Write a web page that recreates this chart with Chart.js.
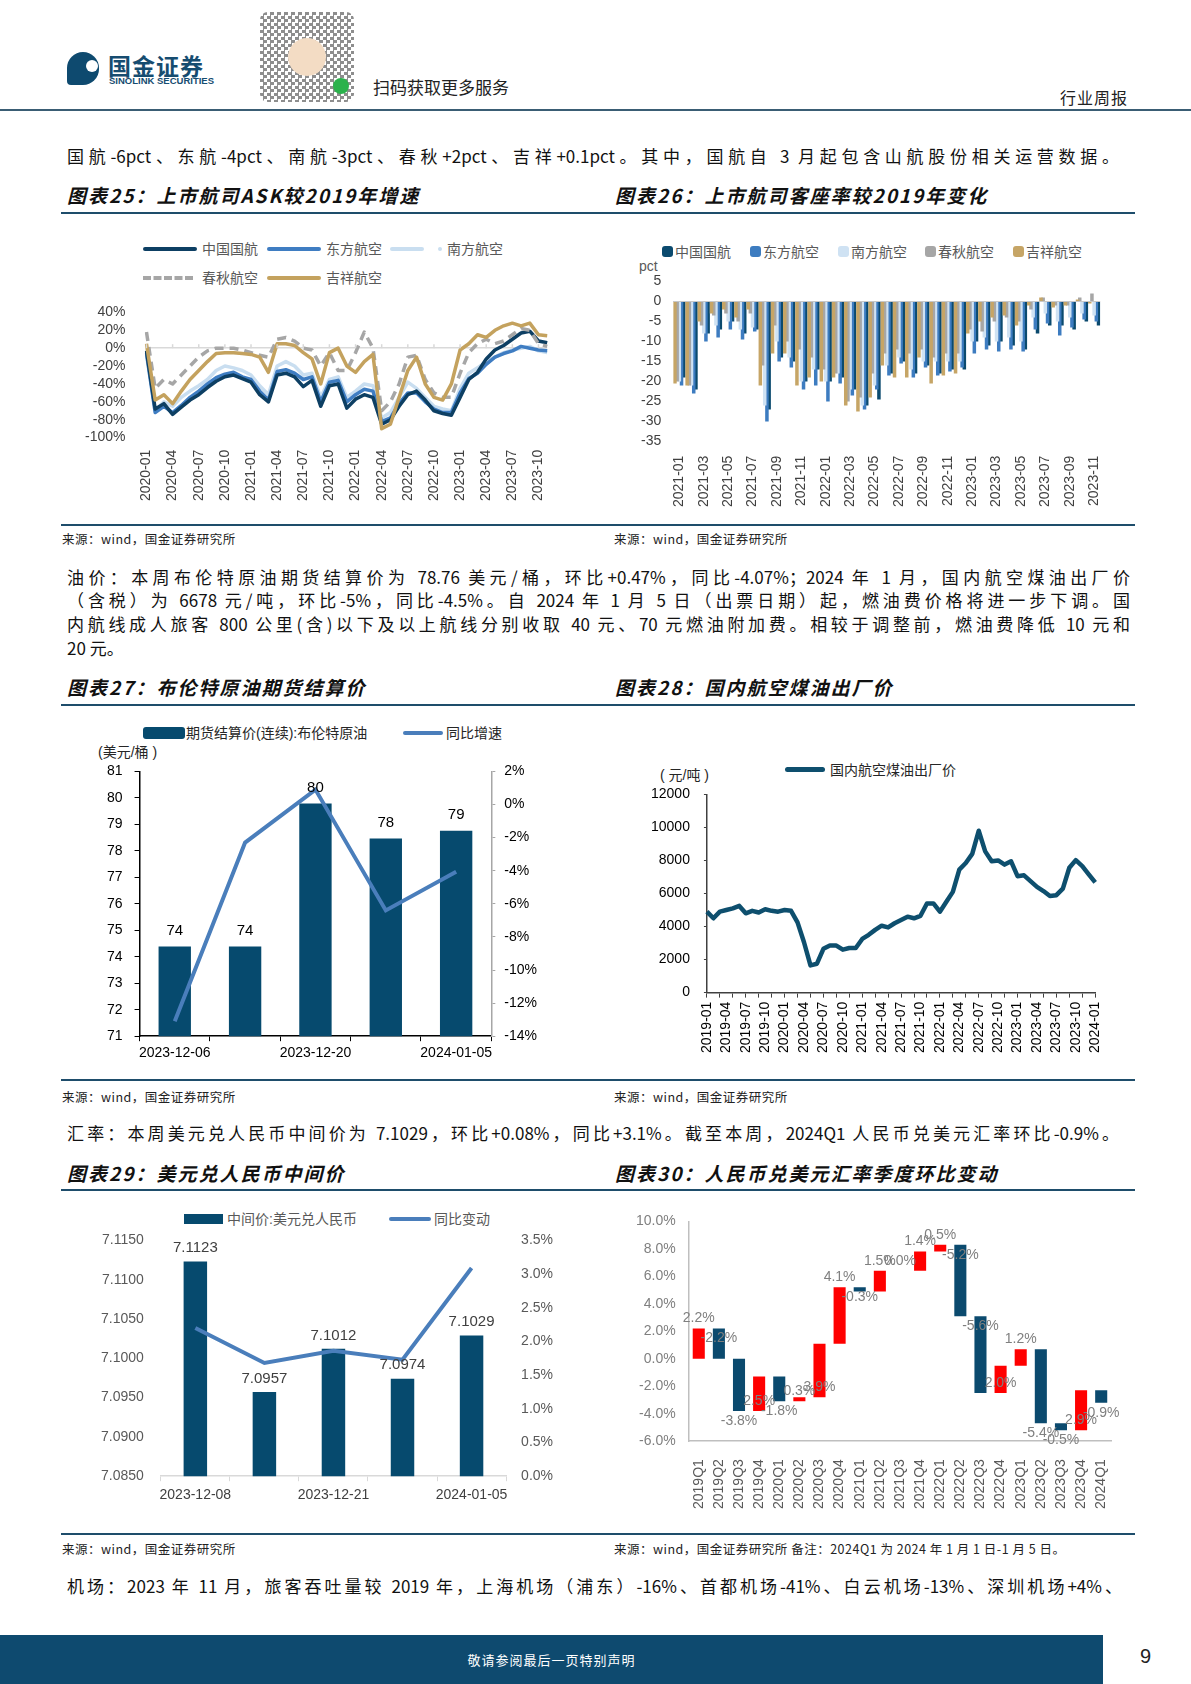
<!DOCTYPE html>
<html>
<head>
<meta charset="utf-8">
<script src="https://cdn.jsdelivr.net/npm/chart.js@4.4.0/dist/chart.umd.min.js"></script>
<style>
body{margin:0;width:1191px;height:1684px;position:relative;background:#fff;overflow:hidden;font-family:"Noto Sans CJK SC","Liberation Sans",sans-serif;color:#111}
.a{position:absolute}
.ln{position:absolute;left:67px;font-size:17px;line-height:22px;text-align:justify;text-align-last:justify;white-space:nowrap}
.ttl{position:absolute;font-size:19px;font-weight:bold;font-style:italic;letter-spacing:2px;line-height:24px}
.src{position:absolute;font-size:12.5px;line-height:16px;color:#222;letter-spacing:0.5px}
.rule{position:absolute;left:61px;width:1074px;height:2px;background:#1e4d6b}
.lg{position:absolute;font-family:"Liberation Sans","Noto Sans CJK SC",sans-serif;font-size:14px;line-height:16px;color:#595959;white-space:nowrap}
canvas{position:absolute}
</style>
</head>
<body>

<!-- header -->
<div class="a" style="left:67px;top:52px;width:32px;height:33px;background:#0e4a6f;border-radius:16px 16px 16px 4px"></div>
<div class="a" style="left:86px;top:60px;width:12px;height:12px;background:#fff;border-radius:6px"></div>
<div class="a" style="left:108px;top:48px;font-size:23px;font-weight:bold;color:#164c70;letter-spacing:1px">国金证券</div>
<div class="a" style="left:109px;top:75px;font-family:'Liberation Sans';font-size:9.5px;font-weight:bold;color:#164c70">SINOLINK SECURITIES</div>
<div class="a" style="left:260px;top:12px;width:94px;height:90px;border-radius:8px;background:repeating-conic-gradient(#333 0 25%,#fff 0 50%) 0 0/7px 7px;opacity:0.55"></div>
<div class="a" style="left:288px;top:38px;width:38px;height:38px;border-radius:19px;background:#f3dcc4"></div>
<div class="a" style="left:333px;top:78px;width:16px;height:16px;border-radius:8px;background:#2bb24c"></div>
<div class="a" style="left:373px;top:74px;font-size:17px;color:#222">扫码获取更多服务</div>
<div class="a" style="left:1060px;top:85px;font-size:16px;color:#222;letter-spacing:1px">行业周报</div>
<div class="a" style="left:0;top:109px;width:1191px;height:2px;background:#3a5d74"></div>

<div class="ln" style="top:145px;width:1052px">国航-6pct、东航-4pct、南航-3pct、春秋+2pct、吉祥+0.1pct。其中，国航自 3 月起包含山航股份相关运营数据。</div>

<!-- block 1 -->
<div class="ttl" style="left:67px;top:183px">图表25：上市航司ASK较2019年增速</div>
<div class="ttl" style="left:615px;top:183px">图表26：上市航司客座率较2019年变化</div>
<div class="rule" style="top:212px"></div>

<div class="lg" style="left:143px;top:241px">
  <span class="a" style="left:0;top:6px;width:54px;height:4px;background:#0d3f63;border-radius:2px"></span>
  <span class="a" style="left:59px;top:0">中国国航</span>
  <span class="a" style="left:124px;top:6px;width:54px;height:4px;background:#3f7dc2;border-radius:2px"></span>
  <span class="a" style="left:183px;top:0">东方航空</span>
  <span class="a" style="left:247px;top:6px;width:34px;height:4px;background:#c9def0;border-radius:2px"></span>
  <span class="a" style="left:295px;top:6px;width:4px;height:4px;background:#c9def0;border-radius:2px"></span>
  <span class="a" style="left:304px;top:0">南方航空</span>
  <span class="a" style="left:0;top:35px;width:50px;height:0;border-top:4px dashed #a6a6a6"></span>
  <span class="a" style="left:59px;top:29px">春秋航空</span>
  <span class="a" style="left:124px;top:35px;width:54px;height:4px;background:#c4a25e;border-radius:2px"></span>
  <span class="a" style="left:183px;top:29px">吉祥航空</span>
</div>

<div class="lg" style="left:662px;top:244px">
  <span class="a" style="left:0;top:2px;width:11px;height:11px;background:#0b4a6e;border-radius:3px"></span>
  <span class="a" style="left:13px;top:0">中国国航</span>
  <span class="a" style="left:88px;top:2px;width:11px;height:11px;background:#3d7cc0;border-radius:3px"></span>
  <span class="a" style="left:101px;top:0">东方航空</span>
  <span class="a" style="left:176px;top:2px;width:11px;height:11px;background:#cfe2f3;border-radius:3px"></span>
  <span class="a" style="left:189px;top:0">南方航空</span>
  <span class="a" style="left:263px;top:2px;width:11px;height:11px;background:#a6a6a6;border-radius:3px"></span>
  <span class="a" style="left:276px;top:0">春秋航空</span>
  <span class="a" style="left:351px;top:2px;width:11px;height:11px;background:#c6a566;border-radius:3px"></span>
  <span class="a" style="left:364px;top:0">吉祥航空</span>
</div>
<div class="lg" style="left:639px;top:258px">pct</div>

<canvas id="c25" width="504" height="222" style="left:64px;top:283px"></canvas>
<canvas id="c26" width="488" height="252" style="left:629px;top:261px"></canvas>

<div class="rule" style="top:524px"></div>
<div class="src" style="left:62px;top:531px">来源：wind，国金证券研究所</div>
<div class="src" style="left:614px;top:531px">来源：wind，国金证券研究所</div>

<div class="ln" style="top:566px;width:1063px">油价：本周布伦特原油期货结算价为 78.76 美元/桶，环比+0.47%，同比-4.07%；2024 年 1 月，国内航空煤油出厂价</div>
<div class="ln" style="top:589px;width:1063px">（含税）为 6678 元/吨，环比-5%，同比-4.5%。自 2024 年 1 月 5 日（出票日期）起，燃油费价格将进一步下调。国</div>
<div class="ln" style="top:613px;width:1063px">内航线成人旅客 800 公里(含)以下及以上航线分别收取 40 元、70 元燃油附加费。相较于调整前，燃油费降低 10 元和</div>
<div class="ln" style="top:637px;text-align-last:left">20 元。</div>

<!-- block 2 -->
<div class="ttl" style="left:67px;top:675px">图表27：布伦特原油期货结算价</div>
<div class="ttl" style="left:615px;top:675px">图表28：国内航空煤油出厂价</div>
<div class="rule" style="top:704px"></div>

<div class="lg" style="left:143px;top:725px;color:#262626">
  <span class="a" style="left:0;top:2px;width:42px;height:12px;background:#064a6e;border-radius:3px"></span>
  <span class="a" style="left:43px;top:0">期货结算价(连续):布伦特原油</span>
  <span class="a" style="left:260px;top:6px;width:40px;height:4px;background:#4a7ebb;border-radius:2px"></span>
  <span class="a" style="left:303px;top:0">同比增速</span>
</div>
<div class="lg" style="left:98px;top:744px;color:#262626">(美元/桶 )</div>

<div class="lg" style="left:785px;top:762px;color:#262626">
  <span class="a" style="left:0;top:5px;width:40px;height:5px;background:#0e4f6e;border-radius:3px"></span>
  <span class="a" style="left:45px;top:0">国内航空煤油出厂价</span>
</div>
<div class="lg" style="left:660px;top:767px;color:#262626">( 元/吨 )</div>

<canvas id="c27" width="451" height="315" style="left:95px;top:751px"></canvas>
<canvas id="c28" width="479" height="285" style="left:637px;top:772px"></canvas>

<div class="rule" style="top:1079px"></div>
<div class="src" style="left:62px;top:1089px">来源：wind，国金证券研究所</div>
<div class="src" style="left:614px;top:1089px">来源：wind，国金证券研究所</div>

<div class="ln" style="top:1122px;width:1052px">汇率：本周美元兑人民币中间价为 7.1029，环比+0.08%，同比+3.1%。截至本周，2024Q1 人民币兑美元汇率环比-0.9%。</div>

<!-- block 3 -->
<div class="ttl" style="left:67px;top:1161px">图表29：美元兑人民币中间价</div>
<div class="ttl" style="left:615px;top:1161px">图表30：人民币兑美元汇率季度环比变动</div>
<div class="rule" style="top:1189px"></div>

<div class="lg" style="left:184px;top:1211px">
  <span class="a" style="left:0;top:3px;width:39px;height:10px;background:#064a6e"></span>
  <span class="a" style="left:43px;top:0">中间价:美元兑人民币</span>
  <span class="a" style="left:205px;top:6px;width:42px;height:4px;background:#4a7ebb;border-radius:2px"></span>
  <span class="a" style="left:250px;top:0">同比变动</span>
</div>

<canvas id="c29" width="468" height="287" style="left:92px;top:1223px"></canvas>
<canvas id="c30" width="497" height="311" style="left:631px;top:1208px"></canvas>

<div class="rule" style="top:1533px"></div>
<div class="src" style="left:62px;top:1541px">来源：wind，国金证券研究所</div>
<div class="src" style="left:614px;top:1541px">来源：wind，国金证券研究所 备注：2024Q1 为 2024 年 1 月 1 日-1 月 5 日。</div>

<div class="ln" style="top:1575px;width:1055px">机场：2023 年 11 月，旅客吞吐量较 2019 年，上海机场（浦东）-16%、首都机场-41%、白云机场-13%、深圳机场+4%、</div>

<!-- footer -->
<div class="a" style="left:0;top:1635px;width:1103px;height:49px;background:#0e4a6f"></div>
<div class="a" style="left:0;top:1650px;width:1103px;text-align:center;font-size:13px;color:#fff;letter-spacing:1px">敬请参阅最后一页特别声明</div>
<div class="a" style="left:1140px;top:1645px;font-family:'Liberation Sans';font-size:20px;color:#222">9</div>

<script>
// ---- data ----
function monthLabels(y, m, n) {
  const out = [];
  for (let i = 0; i < n; i++) {
    const k = m - 1 + i;
    out.push((y + Math.floor(k / 12)) + '-' + String(k % 12 + 1).padStart(2, '0'));
  }
  return out;
}

// 图表25 ASK vs 2019 (%), 2020-01 .. 2023-11
const askMonths = monthLabels(2020, 1, 47);
const askAirChina = [-3,-68,-62,-74,-66,-58,-52,-44,-37,-32,-30,-34,-38,-52,-60,-30,-28,-32,-43,-36,-65,-42,-40,-67,-57,-52,-55,-85,-80,-65,-52,-48,-58,-70,-73,-75,-55,-35,-27,-12,-2,3,10,17,19,8,6];
const askEastern  = [-5,-72,-65,-72,-64,-55,-48,-40,-33,-29,-27,-32,-35,-48,-58,-26,-24,-28,-35,-32,-60,-38,-36,-60,-52,-46,-48,-82,-78,-62,-50,-50,-60,-68,-72,-72,-50,-34,-28,-18,-10,-6,-3,2,0,-2,-3];
const askSouthern = [-8,-70,-60,-65,-55,-48,-42,-35,-25,-20,-22,-25,-30,-42,-52,-20,-15,-20,-30,-28,-55,-35,-32,-55,-48,-40,-42,-78,-72,-55,-38,-45,-55,-65,-68,-70,-45,-28,-22,-15,-10,-5,-2,0,2,-3,-5];
const askSpring   = [18,-45,-35,-40,-30,-20,-10,-3,0,0,0,-2,-5,-8,-10,10,12,8,0,-2,-20,-5,-25,-25,-5,18,0,-70,-60,-40,-10,-8,-35,-50,-55,-55,-28,-5,5,10,5,8,15,22,20,5,2];
const askJuneyao  = [5,-58,-52,-62,-48,-35,-25,-15,-6,-5,-5,-6,-7,-10,-27,5,5,3,-5,-12,-40,-5,0,-20,-27,-15,-7,-90,-85,-55,-25,-10,-40,-55,-58,-40,-2,5,15,12,20,25,28,25,28,15,14];

// 图表26 load factor vs 2019 (pct), 2021-01 .. 2023-11
const lfMonths = monthLabels(2021, 1, 35);
const lfAirChina = [-19,-22,-8,-7,-5,-8,-7,-27,-14,-15,-20,-17,-20,-19,-22,-26,-24.5,-18,-15,-18,-16,-18,-17,-17,-10,-11,-10,-11,-12,-8,-6,-6,-7,-5,-6];
const lfEastern  = [-21,-23,-10,-9,-7,-9.5,-7.5,-30,-15,-16.5,-22,-21,-25,-20.5,-23.5,-27,-22,-18.5,-15.5,-19,-16.5,-18.5,-17.5,-16.5,-13,-12,-12.5,-12,-12.5,-7,-5.5,-8.5,-6.5,-4.5,-5];
const lfSouthern = [-20,-21,-8,-6,-5,-7,-6.5,-26,-10,-14,-20,-17,-20,-18,-22,-26,-21,-16,-14,-17,-15,-15,-15,-15,-10,-9,-10,-9,-10,-4,-3,-5,-4,-3,-3.5];
const lfSpring   = [-20,-21,-6,-3.5,-3,-5,-3,-16,-6,-10,-12,-14,-17,-18,-25,-24,-18,-13,-12,-13,-12,-14,-13,-13,-7,-7.5,-5,-4,-5,-2,1,-1,-1,1,2];
const lfJuneyao  = [-20.5,-21,-5,-3,-2,-4,-2,-21,-13,-13,-21,-19,-20,-19,-26,-27.5,-24,-16,-19,-19,-14,-20.5,-18.5,-18,-8,-5,-4,-3.5,-6,-1,1,-1.5,-1,0.5,-0.5];

// 图表27 Brent settlement (USD/bbl) and yoy (%)
const brentDates = ['2023-12-06','2023-12-13','2023-12-20','2023-12-27','2024-01-05'];
const brentPrice = [74.39, 74.39, 79.79, 78.47, 78.76];
const brentYoy   = [-13.1, -2.3, 0.9, -6.4, -4.07];

// 图表28 jet fuel ex-factory price (CNY/t), 2019-01 .. 2024-01
const jetMonths = monthLabels(2019, 1, 61);
const jetPrice = [4900,4500,4900,5000,5100,5250,4800,4950,4850,5050,4950,4900,
                  5000,4950,4250,3050,1650,1750,2650,2850,2850,2600,2700,2700,
                  3250,3500,3800,4050,3950,4200,4400,4600,4500,4650,5400,5400,
                  4900,5500,6100,7450,7850,8400,9800,8550,7950,8000,7750,7950,
                  7050,7100,6750,6400,6150,5850,5900,6300,7560,8020,7660,7160,
                  6678];

// 图表29 USD/CNY central parity and yoy (%)
const fxDates = ['2023-12-08','2023-12-14','2023-12-21','2023-12-28','2024-01-05'];
const fxMid   = [7.1123, 7.0957, 7.1012, 7.0974, 7.1029];
const fxYoy   = [2.20, 1.68, 1.86, 1.73, 3.09];

// 图表30 RMB vs USD quarterly change (%)
const qtrs = ['2019Q1','2019Q2','2019Q3','2019Q4','2020Q1','2020Q2','2020Q3','2020Q4','2021Q1','2021Q2','2021Q3','2021Q4','2022Q1','2022Q2','2022Q3','2022Q4','2023Q1','2023Q2','2023Q3','2023Q4','2024Q1'];
const qtrChange = [2.2,-2.2,-3.8,2.5,-1.8,0.3,3.9,4.1,-0.3,1.5,0.0,1.4,0.5,-5.2,-5.6,2.0,1.2,-5.4,-0.5,2.9,-0.9];

// ---- styles ----
const NAVY = '#0b4a6e', BLUE = '#3d7cc0', LIGHT = '#cfe2f3', GRAY = '#a6a6a6', GOLD = '#c6a566';
const LINEBLUE = '#4a7ebb';
Chart.defaults.font.family = '"Liberation Sans","Noto Sans CJK SC",sans-serif';
Chart.defaults.font.size = 14;
Chart.defaults.color = '#404040';
Chart.defaults.animation = false;
Chart.defaults.responsive = false;
Chart.defaults.plugins.legend.display = false;
Chart.defaults.plugins.tooltip.enabled = false;

// small tick marks on the zero line (chart 25)
const zeroTicks = {
  id: 'zeroTicks',
  afterDraw(chart) {
    const x = chart.scales.x, y0 = chart.scales.y.getPixelForValue(0), ctx = chart.ctx;
    ctx.save();
    ctx.strokeStyle = '#d9d9d9';
    ctx.lineWidth = 1.5;
    for (let i = 0; i < chart.data.labels.length; i += 3) {
      const px = x.getPixelForValue(i);
      ctx.beginPath(); ctx.moveTo(px, y0); ctx.lineTo(px, y0 - 4); ctx.stroke();
    }
    ctx.restore();
  }
};

// value labels over bars
const barLabels = {
  id: 'barLabels',
  afterDatasetsDraw(chart, args, opts) {
    const ctx = chart.ctx;
    const meta = chart.getDatasetMeta(opts.index);
    const vals = opts.values;
    ctx.save();
    ctx.font = opts.font;
    ctx.fillStyle = opts.color;
    ctx.textAlign = 'center';
    meta.data.forEach((el, i) => {
      const v = vals[i];
      if (v < 0 && opts.below) {
        ctx.textBaseline = 'top';
        ctx.fillText(opts.fmt(v), el.x, el.y + 3);
      } else {
        ctx.textBaseline = 'bottom';
        ctx.fillText(opts.fmt(v), el.x, el.y - opts.gap);
      }
    });
    ctx.restore();
  }
};

// ---- chart 25 ----
function lineSet(label, data, color, order, dash) {
  return { label, data, borderColor: color, backgroundColor: color, borderWidth: 3.5,
           pointRadius: 0, tension: 0, order, borderDash: dash || [], borderJoinStyle: 'round' };
}
new Chart(document.getElementById('c25'), {
  type: 'line',
  data: {
    labels: askMonths,
    datasets: [
      lineSet('吉祥航空', askJuneyao, '#c4a25e', 0),
      lineSet('春秋航空', askSpring, GRAY, 1, [9, 6]),
      lineSet('中国国航', askAirChina, '#0d3f63', 2),
      lineSet('东方航空', askEastern, '#3f7dc2', 3),
      lineSet('南方航空', askSouthern, '#c9def0', 4)
    ]
  },
  options: {
    layout: { padding: { top: 4, right: 14, left: 0, bottom: 0 } },
    scales: {
      x: {
        grid: { display: false }, border: { display: false },
        ticks: { autoSkip: false, minRotation: 90, maxRotation: 90, padding: 4,
                 callback: (v, i) => i % 3 === 0 ? askMonths[i] : '' }
      },
      y: {
        min: -100, max: 40,
        ticks: { stepSize: 20, padding: 21, autoSkip: false, callback: v => v + '%' },
        grid: { drawTicks: false, lineWidth: 1.5, color: c => c.tick.value === 0 ? '#d9d9d9' : 'rgba(0,0,0,0)' },
        border: { display: false }
      }
    }
  },
  plugins: [zeroTicks]
});

// ---- chart 26 ----
function barSet(label, data, color, order) {
  return { label, data, backgroundColor: color, order, categoryPercentage: 0.9, barPercentage: 1.6 };
}
new Chart(document.getElementById('c26'), {
  type: 'bar',
  data: {
    labels: lfMonths,
    datasets: [
      barSet('中国国航', lfAirChina, NAVY, 4),
      barSet('东方航空', lfEastern, BLUE, 3),
      barSet('南方航空', lfSouthern, LIGHT, 2),
      barSet('春秋航空', lfSpring, GRAY, 1),
      barSet('吉祥航空', lfJuneyao, GOLD, 0)
    ]
  },
  options: {
    layout: { padding: { top: 2, right: 4 } },
    scales: {
      x: {
        grid: { display: false }, border: { display: false },
        ticks: { autoSkip: false, minRotation: 90, maxRotation: 90, padding: 6,
                 callback: (v, i) => i % 2 === 0 ? lfMonths[i] : '' }
      },
      y: {
        min: -35, max: 5,
        ticks: { stepSize: 5, padding: 12, autoSkip: false },
        grid: { drawTicks: false, color: c => c.tick.value === 0 ? '#c8c8c8' : 'rgba(0,0,0,0)' },
        border: { display: false }
      }
    }
  }
});

// ---- chart 27 ----
new Chart(document.getElementById('c27'), {
  type: 'bar',
  data: {
    labels: brentDates,
    datasets: [
      { type: 'line', label: '同比增速', data: brentYoy, yAxisID: 'y1', borderColor: LINEBLUE,
        borderWidth: 4, pointRadius: 0, order: 0 },
      { label: '期货结算价(连续):布伦特原油', data: brentPrice, backgroundColor: '#064a6e',
        categoryPercentage: 1, barPercentage: 0.46, order: 1 }
    ]
  },
  options: {
    layout: { padding: { top: 0, bottom: 0 } },
    scales: {
      x: {
        grid: { display: true, drawOnChartArea: false, offset: true, tickLength: 5, color: '#000' },
        border: { color: '#000', width: 1.5 },
        ticks: { autoSkip: false, maxRotation: 0, padding: 4, color: '#000',
                 callback: (v, i) => i % 2 === 0 ? brentDates[i] : '' }
      },
      y: {
        min: 71, max: 81,
        ticks: { stepSize: 1, padding: 12, autoSkip: false, color: '#000' },
        grid: { drawOnChartArea: false, tickLength: 5, color: '#000' },
        border: { color: '#000', width: 1.5 }
      },
      y1: {
        position: 'right', min: -14, max: 2,
        ticks: { stepSize: 2, padding: 9, autoSkip: false, color: '#000', callback: v => v + '%' },
        grid: { drawOnChartArea: false, tickLength: 4, color: '#a6a6a6' },
        border: { color: '#a6a6a6', width: 1.5 }
      }
    },
    plugins: {
      barLabels: { index: 1, values: brentPrice, font: '15px "Liberation Sans"', color: '#000', gap: 8,
                   fmt: v => String(Math.round(v)) }
    }
  },
  plugins: [barLabels]
});

// ---- chart 28 ----
new Chart(document.getElementById('c28'), {
  type: 'line',
  data: {
    labels: jetMonths,
    datasets: [{ label: '国内航空煤油出厂价', data: jetPrice, borderColor: '#0e4f6e', borderWidth: 4.5,
                 pointRadius: 0, tension: 0, borderJoinStyle: 'round' }]
  },
  options: {
    layout: { padding: { top: 0, right: 10 } },
    scales: {
      x: {
        grid: { display: true, drawOnChartArea: false, tickLength: 5,
                color: c => c.index % 2 === 0 ? '#404040' : 'rgba(0,0,0,0)' },
        border: { color: '#404040', width: 1.5 },
        ticks: { autoSkip: false, minRotation: 90, maxRotation: 90, padding: 4, color: '#000',
                 callback: (v, i) => i % 3 === 0 ? jetMonths[i] : '' }
      },
      y: {
        min: 0, max: 12000,
        ticks: { stepSize: 2000, padding: 14, autoSkip: false, color: '#000', callback: v => String(v) },
        grid: { drawOnChartArea: false, tickLength: 3, color: '#404040' },
        border: { color: '#404040', width: 1.5 }
      }
    }
  }
});

// ---- chart 29 ----
new Chart(document.getElementById('c29'), {
  type: 'bar',
  data: {
    labels: fxDates,
    datasets: [
      { type: 'line', label: '同比变动', data: fxYoy, yAxisID: 'y1', borderColor: LINEBLUE,
        borderWidth: 4, pointRadius: 0, order: 0 },
      { label: '中间价:美元兑人民币', data: fxMid, backgroundColor: '#064a6e',
        categoryPercentage: 1, barPercentage: 0.34, order: 1 }
    ]
  },
  options: {
    scales: {
      x: {
        grid: { display: true, drawOnChartArea: false, offset: true, tickLength: 5, color: '#d9d9d9' },
        border: { color: '#d9d9d9', width: 1.5 },
        ticks: { autoSkip: false, maxRotation: 0, padding: 6, color: '#404040',
                 callback: (v, i) => i % 2 === 0 ? fxDates[i] : '' }
      },
      y: {
        min: 7.085, max: 7.115,
        ticks: { stepSize: 0.005, padding: 9, autoSkip: false, color: '#595959', callback: v => v.toFixed(4) },
        grid: { display: false }, border: { display: false }
      },
      y1: {
        position: 'right', min: 0, max: 3.5,
        ticks: { stepSize: 0.5, padding: 7, autoSkip: false, color: '#595959', callback: v => v.toFixed(1) + '%' },
        grid: { display: false }, border: { display: false }
      }
    },
    plugins: {
      barLabels: { index: 1, values: fxMid, font: '15px "Liberation Sans"', color: '#404040', gap: 6,
                   fmt: v => v.toFixed(4) }
    }
  },
  plugins: [barLabels]
});

// ---- chart 30 (waterfall) ----
const qtrLevels = [];
let level = 0;
qtrChange.forEach(d => { qtrLevels.push([level, +(level + d).toFixed(2)]); level += d; });
new Chart(document.getElementById('c30'), {
  type: 'bar',
  data: {
    labels: qtrs,
    datasets: [{ label: '环比变动', data: qtrLevels,
                 backgroundColor: qtrChange.map(d => d >= 0 ? '#ff0000' : NAVY),
                 categoryPercentage: 1, barPercentage: 0.6 }]
  },
  options: {
    scales: {
      x: {
        grid: { display: false },
        border: { color: '#bfbfbf', width: 1.5 },
        ticks: { autoSkip: false, minRotation: 90, maxRotation: 90, padding: 10, color: '#595959' }
      },
      y: {
        min: -6, max: 10,
        ticks: { stepSize: 2, padding: 5, autoSkip: false, color: '#7f7f7f', callback: v => v.toFixed(1) + '%' },
        grid: { display: false },
        border: { color: '#bfbfbf', width: 1.5 }
      }
    },
    plugins: {
      barLabels: { index: 0, values: qtrChange, font: '14px "Liberation Sans"', color: '#7f7f7f', gap: 3,
                   below: true, fmt: v => v.toFixed(1) + '%' }
    }
  },
  plugins: [barLabels]
});
</script>
</body>
</html>
